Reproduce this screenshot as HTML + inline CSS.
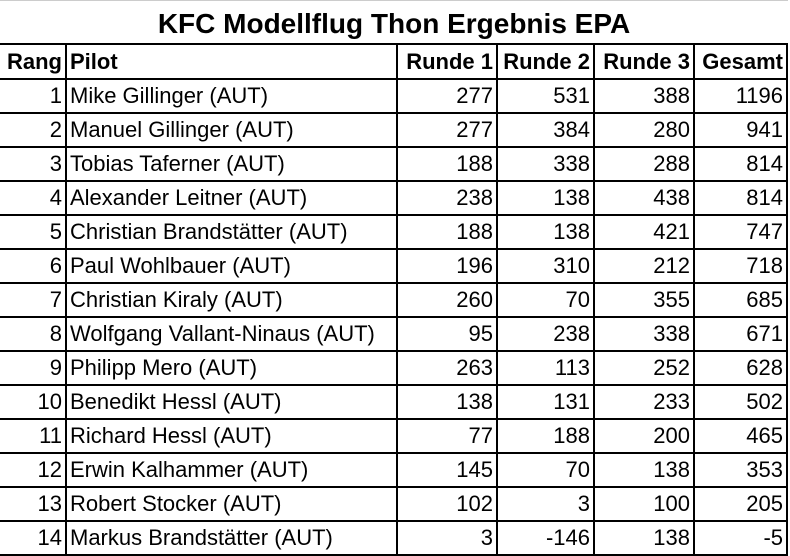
<!DOCTYPE html>
<html><head><meta charset="utf-8"><style>
html,body{margin:0;padding:0;background:#fff;}
body{width:790px;height:556px;position:relative;overflow:hidden;font-family:"Liberation Sans",sans-serif;}
.t{position:absolute;left:0;top:0;width:788px;height:44px;text-align:center;font-weight:bold;font-size:28px;line-height:46px;border-top:1px solid #ccc;}
table{position:absolute;left:0;top:43px;border-collapse:collapse;table-layout:fixed;}
td{border:2px solid #000;height:32px;padding:0 3px;font-size:22px;line-height:32px;white-space:nowrap;overflow:hidden;text-align:right;}
tr.h td{font-weight:bold;height:33px;}
td.p{text-align:left;}
tr td:first-child{border-left:none;}
</style></head><body>
<div class="t">KFC Modellflug Thon Ergebnis EPA</div>
<table>
<colgroup><col style="width:66px"><col style="width:331px"><col style="width:100px"><col style="width:97px"><col style="width:100px"><col style="width:93px"></colgroup>
<tr class="h"><td>Rang</td><td class="p">Pilot</td><td>Runde 1</td><td>Runde 2</td><td>Runde 3</td><td>Gesamt</td></tr>
<tr><td>1</td><td class="p">Mike Gillinger (AUT)</td><td>277</td><td>531</td><td>388</td><td>1196</td></tr>
<tr><td>2</td><td class="p">Manuel Gillinger (AUT)</td><td>277</td><td>384</td><td>280</td><td>941</td></tr>
<tr><td>3</td><td class="p">Tobias Taferner (AUT)</td><td>188</td><td>338</td><td>288</td><td>814</td></tr>
<tr><td>4</td><td class="p">Alexander Leitner (AUT)</td><td>238</td><td>138</td><td>438</td><td>814</td></tr>
<tr><td>5</td><td class="p">Christian Brandstätter (AUT)</td><td>188</td><td>138</td><td>421</td><td>747</td></tr>
<tr><td>6</td><td class="p">Paul Wohlbauer (AUT)</td><td>196</td><td>310</td><td>212</td><td>718</td></tr>
<tr><td>7</td><td class="p">Christian Kiraly (AUT)</td><td>260</td><td>70</td><td>355</td><td>685</td></tr>
<tr><td>8</td><td class="p">Wolfgang Vallant-Ninaus (AUT)</td><td>95</td><td>238</td><td>338</td><td>671</td></tr>
<tr><td>9</td><td class="p">Philipp Mero (AUT)</td><td>263</td><td>113</td><td>252</td><td>628</td></tr>
<tr><td>10</td><td class="p">Benedikt Hessl (AUT)</td><td>138</td><td>131</td><td>233</td><td>502</td></tr>
<tr><td>11</td><td class="p">Richard Hessl (AUT)</td><td>77</td><td>188</td><td>200</td><td>465</td></tr>
<tr><td>12</td><td class="p">Erwin Kalhammer (AUT)</td><td>145</td><td>70</td><td>138</td><td>353</td></tr>
<tr><td>13</td><td class="p">Robert Stocker (AUT)</td><td>102</td><td>3</td><td>100</td><td>205</td></tr>
<tr><td>14</td><td class="p">Markus Brandstätter (AUT)</td><td>3</td><td>-146</td><td>138</td><td>-5</td></tr>
</table>
</body></html>
